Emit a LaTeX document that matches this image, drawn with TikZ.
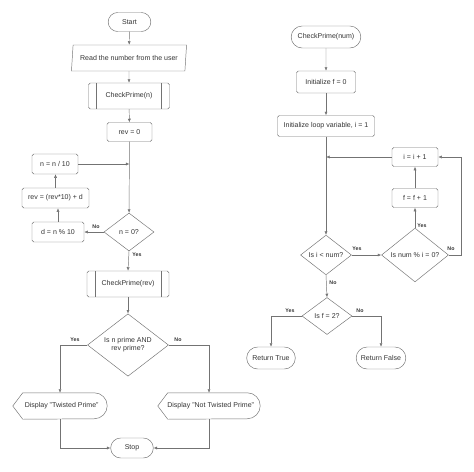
\documentclass[tikz,border=0pt]{standalone}
\usepackage{fontspec}
\setsansfont{Liberation Sans}
\usetikzlibrary{arrows.meta,shapes.geometric,shapes.misc}

\begin{document}
\begin{tikzpicture}[
  x=0.03cm, y=-0.03cm,
  every node/.style={font=\sffamily\fontsize{6}{7}\selectfont, text=black!80, align=center, inner sep=1pt},
  term/.style={rounded rectangle, draw=black!55},
  proc/.style={rectangle, rounded corners=1.5pt, draw=black!55},
  subproc/.style={proc, path picture={
      \draw[black!55] ([xshift=0.24cm]path picture bounding box.north west) -- ([xshift=0.24cm]path picture bounding box.south west)
                      ([xshift=-0.24cm]path picture bounding box.north east) -- ([xshift=-0.24cm]path picture bounding box.south east);}},
  io/.style={trapezium, trapezium left angle=79, trapezium right angle=101, trapezium stretches=true, draw=black!55},
  decision/.style={diamond, draw=black!55, inner sep=0pt},
  disp/.style={rectangle, minimum height=0.78cm},
  lbl/.style={font=\sffamily\bfseries\fontsize{4.5}{5}\selectfont, inner sep=0pt},
  arr/.style={draw=black!55, -{Latex[length=3pt,width=2.6pt]}},
  line/.style={draw=black!55}
]
  \useasboundingbox (0,0) rectangle (474,471);

  % main program
  \node[term, minimum width=1.35cm, minimum height=0.57cm] (start) at (129.5,22) {Start};
  \node[io, minimum width=3.48cm, minimum height=0.78cm] (read) at (129,58) {Read the number from the user};
  \node[subproc, minimum width=2.43cm, minimum height=0.78cm] (cpn) at (129,96) {CheckPrime(n)};
  \node[proc, minimum width=1.35cm, minimum height=0.57cm] (rev0) at (129.5,132) {rev = 0};
  \node[proc, minimum width=1.38cm, minimum height=0.6cm] (ndiv) at (55,164) {n = n / 10};
  \node[proc, minimum width=2.01cm, minimum height=0.6cm] (revc) at (55.5,198) {rev = (rev*10) + d};
  \node[proc, minimum width=1.56cm, minimum height=0.6cm] (dmod) at (58,232) {d = n \% 10};
  \node[decision, minimum width=1.5cm, minimum height=1.14cm] (nz) at (129,232) {n = 0?};
  \node[subproc, minimum width=2.46cm, minimum height=0.78cm] (cpr) at (128,284) {CheckPrime(rev)};
  \node[decision, minimum width=2.43cm, minimum height=1.68cm] (isp) at (128,345) {Is n prime AND\\rev prime?};
  \node[disp, minimum width=2.82cm] (dtp) at (60,406) {\hspace*{0.1cm}Display "Twisted Prime"};
  \node[disp, minimum width=3.06cm] (dnt) at (209,406) {\hspace*{0.1cm}Display "Not Twisted Prime"};
  \node[term, minimum width=1.35cm, minimum height=0.6cm] (stop) at (132,448) {Stop};

  \draw[line] (dtp.west) -- ([xshift=0.3cm]dtp.north west) -- ([xshift=-0.39cm]dtp.north east)
    arc[start angle=90, end angle=-90, radius=0.39cm] -- ([xshift=0.3cm]dtp.south west) -- cycle;
  \draw[line] (dnt.west) -- ([xshift=0.3cm]dnt.north west) -- ([xshift=-0.39cm]dnt.north east)
    arc[start angle=90, end angle=-90, radius=0.39cm] -- ([xshift=0.3cm]dnt.south west) -- cycle;

  \draw[arr] (start) -- (read);
  \draw[arr] (read) -- (cpn);
  \draw[arr] (cpn) -- (rev0);
  \draw[arr] (rev0) -- (nz);
  \draw[arr] (nz.west) -- (dmod.east);
  \draw[arr] (dmod.north) -- (dmod.north |- revc.south);
  \draw[arr] (revc.north) -- (revc.north |- ndiv.south);
  \draw[arr] (ndiv.east) -- (ndiv.east -| rev0.south);
  \draw[arr] (nz.south) -- (cpr.north);
  \draw[arr] (cpr) -- (isp);
  \draw[arr] (isp.west) -| (dtp.north);
  \draw[arr] (isp.east) -| (dnt.north);
  \draw[arr] (dtp.south) |- (stop.west);
  \draw[arr] (dnt.south) |- (stop.east);

  \node[lbl] (l1) at (96,227) {No};
  \node[lbl] (l2) at (137,255) {Yes};
  \node[lbl] (l3) at (75,340) {Yes};
  \node[lbl] (l4) at (178,340) {No};

  % CheckPrime function
  \node[term, minimum width=2.16cm, minimum height=0.66cm] (cpnum) at (326,37) {CheckPrime(num)};
  \node[proc, minimum width=1.77cm, minimum height=0.66cm] (initf) at (326,82) {Initialize f = 0};
  \node[proc, minimum width=2.91cm, minimum height=0.63cm] (initi) at (326,126) {Initialize loop variable, i = 1};
  \node[proc, minimum width=1.38cm, minimum height=0.57cm] (inc) at (415,157) {i = i + 1};
  \node[proc, minimum width=1.38cm, minimum height=0.57cm] (finc) at (415,198) {f = f + 1};
  \node[decision, minimum width=1.53cm, minimum height=1.11cm] (ilt) at (326,255) {Is i < num?};
  \node[decision, minimum width=2.01cm, minimum height=1.32cm] (nmi) at (415,255) {Is num \% i = 0?};
  \node[decision, minimum width=1.5cm, minimum height=1.11cm] (feq) at (327,316) {Is f = 2?};
  \node[term, minimum width=1.53cm, minimum height=0.66cm] (rtrue) at (271,358) {Return True};
  \node[term, minimum width=1.56cm, minimum height=0.66cm] (rfalse) at (381,358) {Return False};

  \draw[arr] (cpnum) -- (initf);
  \draw[arr] (initf) -- (initi);
  \draw[arr] (initi) -- (ilt);
  \draw[arr] (inc.west) -- (inc.west -| initi.south);
  \draw[arr] (ilt.east) -- (nmi.west);
  \draw[arr] (nmi.north) -- (finc.south);
  \draw[arr] (finc.north) -- (inc.south);
  \draw[arr] (nmi.east) -- ++(12,0) |- (inc.east);
  \draw[arr] (ilt.south) -- (feq.north);
  \draw[arr] (feq.west) -| (rtrue.north);
  \draw[arr] (feq.east) -| (rfalse.north);

  \node[lbl] (l5) at (357,249) {Yes};
  \node[lbl] (l6) at (422,226) {Yes};
  \node[lbl] (l7) at (451,249) {No};
  \node[lbl] (l8) at (333,283) {No};
  \node[lbl] (l9) at (290,311) {Yes};
  \node[lbl] (l10) at (360,311) {No};
\end{tikzpicture}
\end{document}
